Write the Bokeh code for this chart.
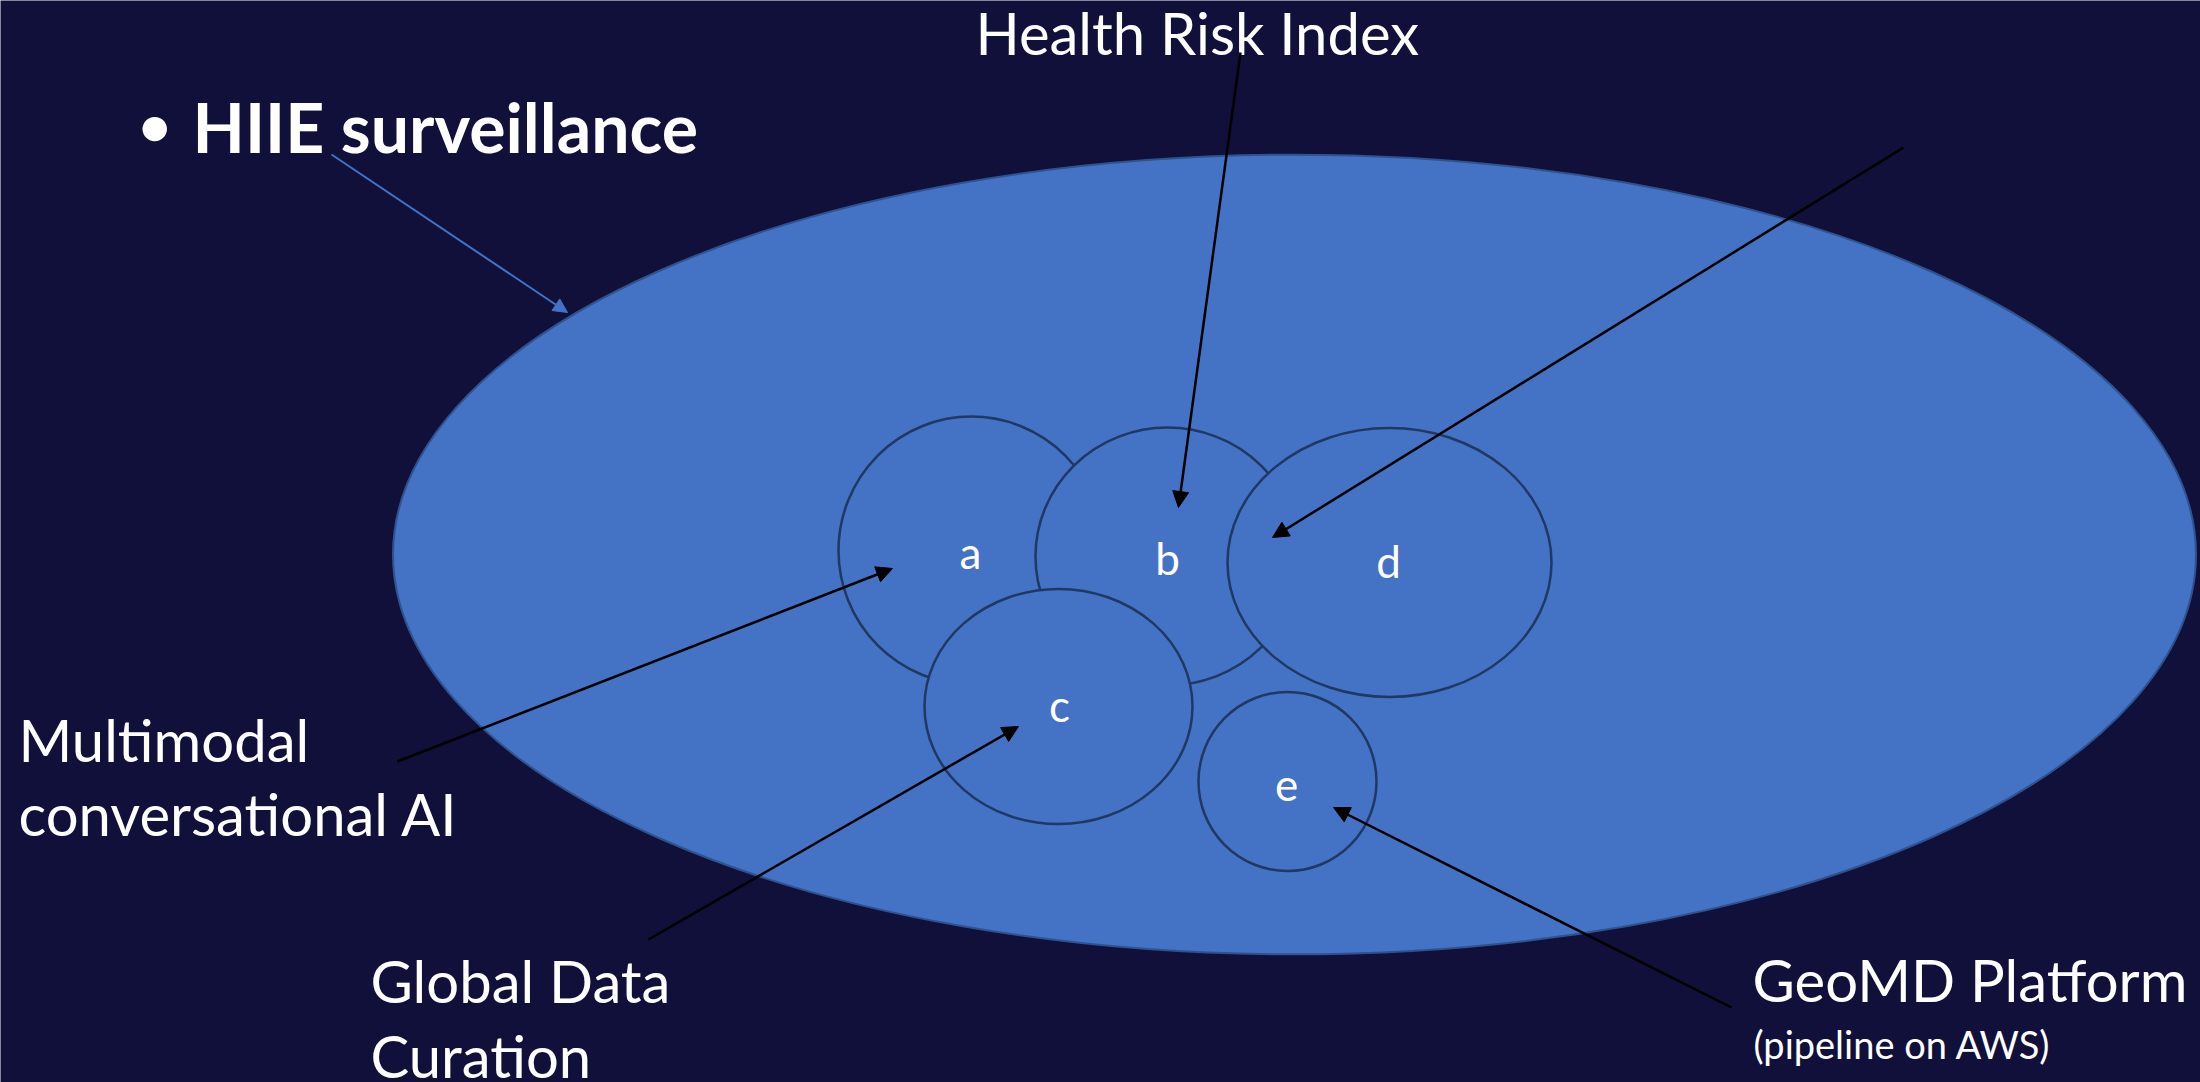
from bokeh.plotting import figure
from bokeh.models import Range1d, Arrow, NormalHead, ColumnDataSource
from bokeh.core.properties import value
from bokeh.embed import file_html
from bokeh.resources import INLINE

# ---- data (reference pixel coordinates, y grows downward) ----
outer_x, outer_y, outer_w, outer_h = 1294, 554, 1803, 800

circle_labels = ["a", "b", "d", "c", "e"]
circle_x = [971, 1167, 1389, 1058, 1287]
circle_y = [550, 556, 562, 706, 781]
circle_w = [266, 264, 324, 268, 178]
circle_h = [268, 258, 269, 235, 179]
label_x = [970, 1167, 1388, 1059, 1286]
label_y = [551, 557, 560, 704, 784]

title_text = "HIIE surveillance"
callout_texts = ["Health Risk Index", "Multimodal", "conversational AI",
                 "Global Data", "Curation", "GeoMD Platform"]
callout_x = [975, 18, 18, 370, 370, 1752]
callout_y = [32, 739, 813, 980, 1055, 979]
sub_text = "(pipeline on AWS)"

arrow_x0 = [1240, 1903, 397, 648, 1731]
arrow_y0 = [52, 147, 761, 939, 1007]
arrow_x1 = [1178, 1272, 892, 1018, 1333]
arrow_y1 = [507, 537, 568, 726, 807]

BG = "#10103A"
FILL = "#4472C4"
EDGE = "#203864"
FONT = "Lato"

p = figure(width=2200, height=1082, output_backend="svg", toolbar_location=None,
           x_range=Range1d(0, 2200), y_range=Range1d(1082, 0),
           x_axis_type=None, y_axis_type=None,
           min_border=0, background_fill_color=BG, border_fill_color=BG,
           outline_line_color=None)
p.grid.visible = False

p.ellipse(x=[outer_x], y=[outer_y], width=[outer_w], height=[outer_h],
          fill_color=FILL, line_color="#2F528F", line_width=2)

src = ColumnDataSource(dict(x=circle_x, y=circle_y, w=circle_w, h=circle_h))
p.ellipse(x="x", y="y", width="w", height="h", source=src,
          fill_color=FILL, line_color=EDGE, line_width=2.5)

p.text(x=label_x, y=label_y, text=circle_labels, text_color="white",
       text_font=value(FONT), text_font_size="44px",
       text_align="center", text_baseline="alphabetic")

# title with bullet
p.text(x=[138], y=[124], text=["•"], text_color="white", text_font=value(FONT),
       text_font_size="56px", text_font_style="bold", text_baseline="alphabetic")
p.text(x=[192], y=[126], text=[title_text], text_color="white", text_font=value(FONT),
       text_font_size="68px", text_font_style="bold", text_baseline="alphabetic")

p.text(x=callout_x, y=callout_y, text=callout_texts, text_color="white",
       text_font=value(FONT), text_font_size="58px", text_baseline="alphabetic")
p.text(x=[1753], y=[1043], text=[sub_text], text_color="white",
       text_font=value(FONT), text_font_size="38px", text_baseline="alphabetic")

# blue arrow from title
p.add_layout(Arrow(x_start=331, y_start=154, x_end=567, y_end=312,
                   line_color=FILL, line_width=2,
                   end=NormalHead(size=14, fill_color=FILL, line_color=FILL)))

for xs, ys, xe, ye in zip(arrow_x0, arrow_y0, arrow_x1, arrow_y1):
    p.add_layout(Arrow(x_start=xs, y_start=ys, x_end=xe, y_end=ye,
                       line_color="black", line_width=2.5,
                       end=NormalHead(size=16, fill_color="black", line_color="black")))

open("out.html", "w").write(file_html(p, INLINE))
